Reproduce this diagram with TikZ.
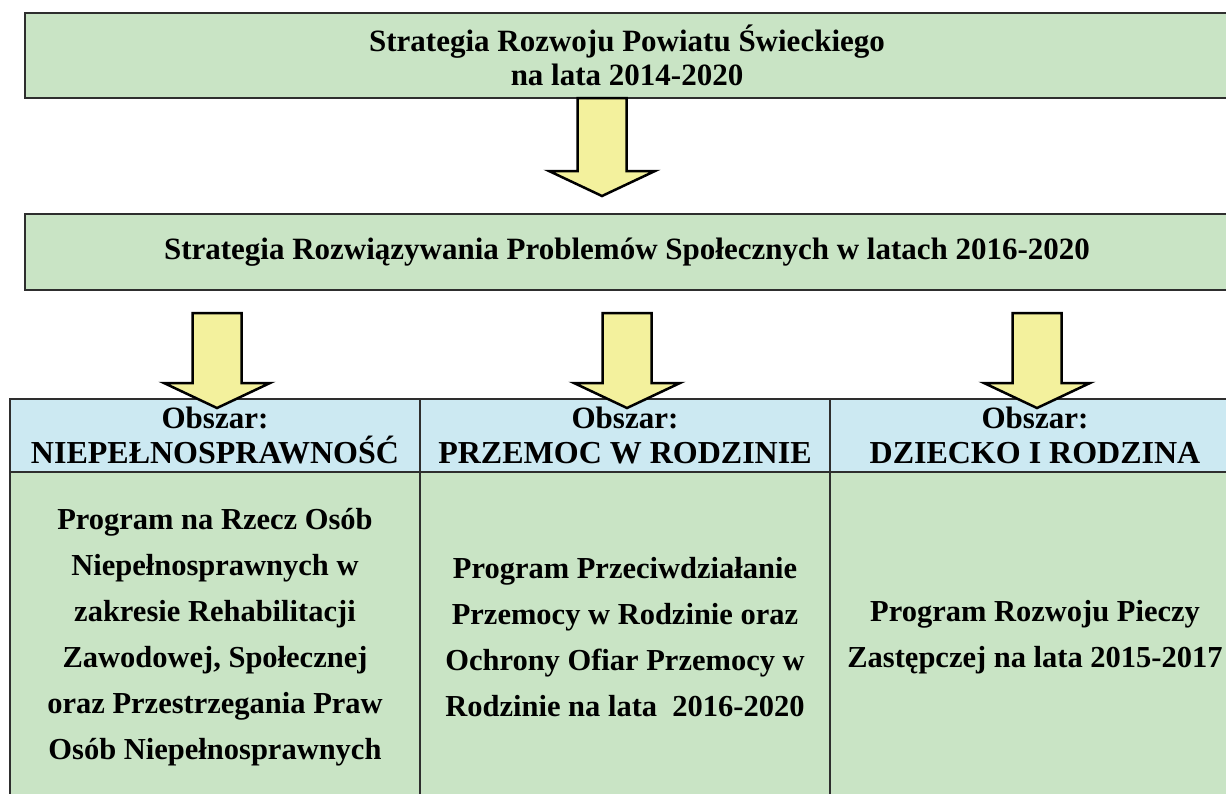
\documentclass[tikz,border=0pt]{standalone}
\usepackage{fontspec}
\setmainfont{Liberation Serif}
\usetikzlibrary{positioning,calc}

\definecolor{boxgreen}{HTML}{C9E4C5}
\definecolor{headblue}{HTML}{CCE9F2}
\definecolor{arrowyellow}{HTML}{F3F19D}
\definecolor{edgegray}{HTML}{2E2E2E}

\tikzset{
  box/.style={draw=edgegray, line width=2pt, fill=boxgreen, inner sep=0pt,
    outer sep=0pt, align=center, font=\fontsize{31}{34}\selectfont\bfseries},
  head/.style={box, fill=headblue, minimum width=410pt, minimum height=73pt,
    font=\fontsize{31}{35}\selectfont\bfseries},
  cell/.style={box, minimum width=410pt, minimum height=330pt,
    font=\fontsize{30.5}{46}\selectfont\bfseries},
  fat arrow/.style={draw=black, line width=2.5pt, fill=arrowyellow, line join=miter}
}

% block arrow from a top point down to its tip
\newcommand{\fatarrow}[2]{%
  \filldraw[fat arrow] ($(#1)+(-24.5,0)$) -- ($(#2)+(-24.5,-25)$)
    -- ($(#2)+(-53,-25)$) -- (#2) -- ($(#2)+(53,-25)$)
    -- ($(#2)+(24.5,-25)$) -- ($(#1)+(24.5,0)$) -- cycle;}

\begin{document}
\begin{tikzpicture}[x=1pt, y=-1pt]
  \useasboundingbox (0,0) rectangle (1226,793);
  \clip (0,0) rectangle (1226,793);

  % strategies
  \node[box, minimum width=1204pt, minimum height=85pt, anchor=north west]
    (powiat) at (25,13) {Strategia Rozwoju Powiatu Świeckiego\\na lata 2014-2020};
  \node[box, minimum width=1204pt, minimum height=76pt, anchor=north west]
    (sprawy) at (25,214) {Strategia Rozwiązywania Problemów Społecznych w latach 2016-2020};

  % areas
  \node[head, anchor=north west] (niep) at (10,399)
    {Obszar:\\{\fontsize{32}{35}\selectfont NIEPEŁNOSPRAWNOŚĆ}};
  \node[head, anchor=north west] (przem) at (niep.north east)
    {Obszar:\\{\fontsize{32}{35}\selectfont PRZEMOC W RODZINIE}};
  \node[head, anchor=north west] (dziecko) at (przem.north east)
    {Obszar:\\{\fontsize{32}{35}\selectfont DZIECKO I RODZINA}};

  % programmes
  \node[cell, anchor=north west] (niepprog) at (niep.south west)
    {Program na Rzecz Osób\\Niepełnosprawnych w\\zakresie Rehabilitacji\\
     Zawodowej, Społecznej\\oraz Przestrzegania Praw\\Osób Niepełnosprawnych};
  \node[cell, anchor=north west] (przemprog) at (przem.south west)
    {Program Przeciwdziałanie\\Przemocy w Rodzinie oraz\\
     Ochrony Ofiar Przemocy w\\Rodzinie na lata~~2016-2020};
  \node[cell, anchor=north west] (dzieckoprog) at (dziecko.south west)
    {Program Rozwoju Pieczy\\Zastępczej na lata 2015-2017};

  % arrows
  \coordinate (powiat top) at ($(powiat.south)+(-25,0)$);
  \coordinate (powiat tip) at ($(sprawy.north)+(-25,-18)$);
  \fatarrow{powiat top}{powiat tip}
  \foreach \col in {niep,przem,dziecko}{
    \coordinate (\col top) at ($(sprawy.south -| \col.north)+(2,23)$);
    \coordinate (\col tip) at ($(\col.north)+(2,9)$);
    \fatarrow{\col top}{\col tip}
  }
\end{tikzpicture}
\end{document}
